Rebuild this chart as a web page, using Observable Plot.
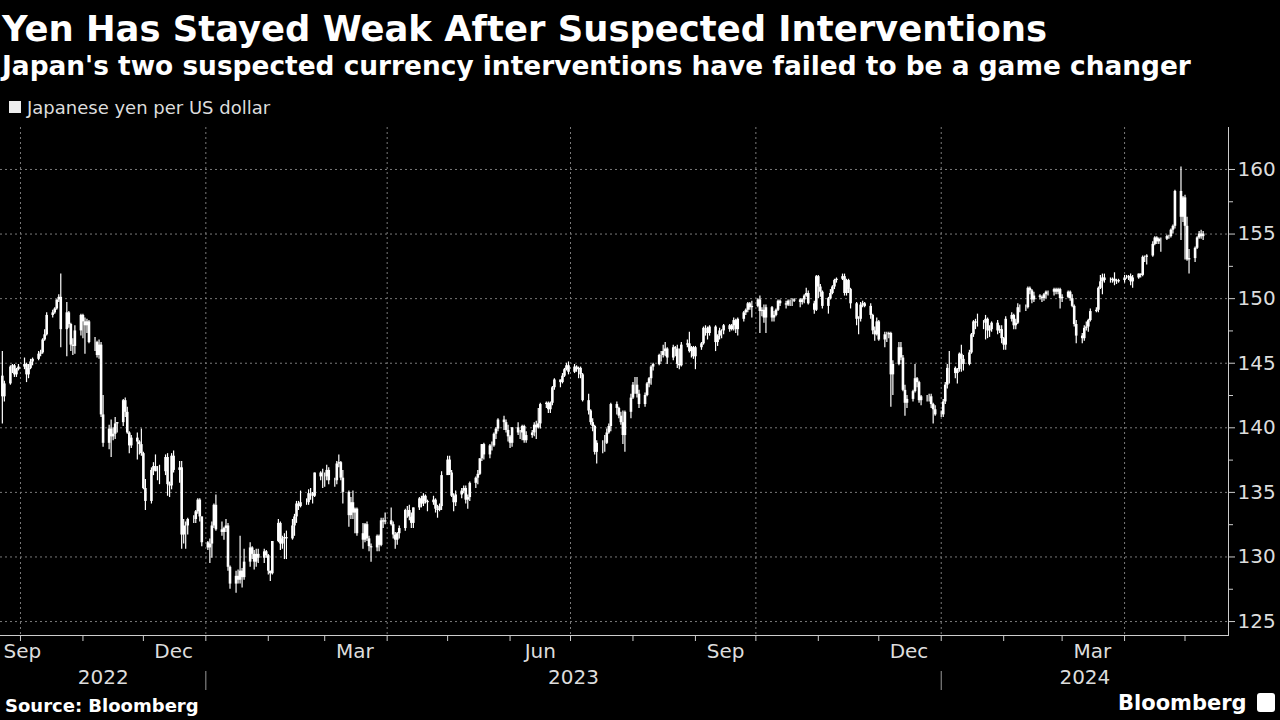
<!DOCTYPE html>
<html><head><meta charset="utf-8">
<script src="https://cdn.jsdelivr.net/npm/d3@7"></script>
<script src="https://cdn.jsdelivr.net/npm/@observablehq/plot@0.6"></script>
<style>
html,body{margin:0;padding:0;background:#000;}
#wrap{position:relative;width:1280px;height:720px;overflow:hidden;background:#000;font-family:"DejaVu Sans",sans-serif;color:#fff;}
.abs{position:absolute;white-space:nowrap;line-height:1;}
#title{left:2px;top:11px;font-size:35.4px;font-weight:bold;}
#subtitle{left:2px;top:53px;font-size:26.4px;font-weight:bold;}
#sw{left:9px;top:101px;width:12px;height:12px;background:#eee;}
#legend{left:27px;top:99px;font-size:18px;color:#ddd;}
#chart{position:absolute;left:0;top:120px;}
#source{left:5px;top:697px;font-size:18px;font-weight:bold;}
#logo{left:1118px;top:693px;font-size:21px;font-weight:bold;}
#icon{left:1257px;top:693px;width:18px;height:19px;background:#fff;border-radius:3px;}
</style></head>
<body><div id="wrap">
<div id="title" class="abs">Yen Has Stayed Weak After Suspected Interventions</div>
<div id="subtitle" class="abs">Japan's two suspected currency interventions have failed to be a game changer</div>
<div id="sw" class="abs"></div>
<div id="legend" class="abs">Japanese yen per US dollar</div>
<div id="chart"></div>
<div id="source" class="abs">Source: Bloomberg</div>
<div id="logo" class="abs">Bloomberg</div>
<div id="icon" class="abs"></div>
</div>
<script>
// Daily USD/JPY candles, weekdays starting Thu 2022-09-22, one row per week (Mon-Fri)
const open = [
[144.0,142.4],
[143.4,144.7,144.8,144.1,144.5],[144.7,144.9,144.1,144.6,145.1],[145.3,145.7,145.8,146.8,147.2],[148.7,148.9,149.2,149.9,150.1],
[147.6,148.9,148.0,146.4,146.3],[147.5,148.7,148.2,147.9,148.2],[146.6,146.6,145.6,146.4,141.0],[138.8,139.9,139.3,139.5,140.3],
[140.4,142.1,141.2,139.6,138.6],[139.2,138.9,138.7,138.0,135.3],[134.3,136.7,137.0,136.6,136.6],[136.6,137.7,135.6,135.5,137.8],
[136.7,136.9,131.7,132.4,132.4],[132.9,132.9,133.5,134.4,133.1],[131.1,130.7,131.0,132.4,134.0],[132.1,131.9,132.2,132.4,129.2],
[127.9,128.5,128.2,128.9,128.4],[129.6,130.7,130.2,129.6,130.2],[129.9,130.4,130.1,128.9,128.7],[131.2,132.6,131.0,131.4,131.5],
[131.4,132.4,133.1,134.1,133.9],[134.2,134.2,134.9,134.9,134.7],[136.5,136.2,136.2,136.2,136.7],[135.9,135.9,137.2,137.3,136.1],
[135.0,133.2,134.2,133.4,133.7],[131.8,131.3,132.5,131.4,130.8],[130.7,131.6,130.9,132.8,132.7],[132.8,132.5,131.7,131.3,131.8],
[132.2,133.6,133.6,133.1,132.6],[133.8,134.5,134.1,134.7,134.3],[134.2,134.4,133.7,133.6,133.9],[136.3,137.5,136.5,134.7,134.2],
[134.8,135.1,135.3,134.4,134.6],[135.7,136.1,136.4,137.6,138.7],[137.9,138.6,138.6,139.5,139.9],[140.6,140.4,139.8,139.3,138.8],
[140.0,139.6,139.6,140.1,139.0],[139.4,139.6,140.2,140.0,140.3],[141.8,141.9,141.4,141.9,143.1],[143.7,143.5,144.0,144.5,144.8],
[144.3,144.7,144.5,144.6,144.1],[142.1,141.3,140.4,140.1,138.1],[138.8,138.8,138.8,139.6,140.1],[141.8,141.5,140.9,140.4,139.4],
[141.2,142.3,143.3,143.3,142.6],[141.8,142.5,143.4,143.8,144.7],[144.9,145.6,145.6,145.9,146.1],[145.4,146.2,146.1,144.9,144.8],
[146.4,146.5,145.9,146.2,145.5],[146.2,146.5,147.7,147.7,147.3],[147.8,146.6,147.1,147.5,147.5],[147.9,147.6,147.9,148.3,147.6],
[148.4,148.9,149.1,149.6,149.3],[149.4,149.9,149.0,149.1,148.5],[149.3,148.5,148.7,149.1,149.8],[149.6,149.5,149.8,149.8,149.8],
[149.9,149.7,149.9,150.2,150.4],[149.6,149.1,151.7,150.9,150.5],[149.4,150.0,150.4,150.9,151.4],[151.5,151.7,150.4,151.4,150.7],
[149.6,148.4,148.4,149.5,149.6],[149.4,148.7,147.5,147.2,148.2],[146.8,147.2,147.2,147.3,144.1],[144.9,146.2,145.4,142.9,141.9],
[142.2,142.8,143.8,143.5,142.1],[142.4,142.4,142.4,141.8,141.4],[141.0,141.0,142.0,143.3,144.6],[144.6,144.2,144.5,145.7,145.3],
[144.9,145.8,147.2,148.2,148.1],[148.1,148.1,148.4,147.5,147.6],[148.1,147.5,147.6,146.9,146.4],[148.4,148.7,147.9,148.1,149.3],
[149.3,149.3,150.8,150.6,149.9],[150.2,150.1,150.0,150.3,150.5],[150.5,150.7,150.5,150.7,150.0],[150.1,150.5,150.0,149.4,148.0],
[147.1,146.9,147.7,147.8,148.3],[149.0,149.1,150.8,151.3,151.6],[151.4,151.4,151.5,151.3,151.3],[151.4,151.6,151.6,151.7,151.3],
[151.6,151.9,151.8,153.2,153.2],[153.3,154.2,154.7,154.4,154.6],[154.6,154.8,154.8,155.3,155.6],[158.3,156.3,157.8,155.6,153.0],
[153.1,153.9,154.7,155.0,154.8]
].flat();
const high = [
[145.9,143.6],
[144.8,144.9,144.9,144.6,144.9],[145.4,145.0,144.9,145.3,145.4],[145.9,146.0,146.9,147.6,148.9],[149.1,149.3,149.9,150.3,151.9],
[149.7,149.0,148.1,146.9,147.9],[148.8,148.8,148.5,148.4,148.3],[147.0,146.7,146.8,146.6,142.5],[140.2,140.6,140.0,140.8,140.4],
[142.2,142.3,141.6,139.7,139.4],[139.6,139.0,139.9,138.1,136.0],[136.9,137.3,137.9,137.0,137.1],[137.9,138.0,135.8,138.0,138.2],
[137.4,137.4,132.9,132.7,133.0],[133.2,133.6,134.5,134.5,133.1],[131.2,131.4,132.7,134.1,134.8],[132.7,132.3,132.9,132.6,129.3],
[128.9,129.0,131.6,129.1,130.6],[131.1,130.8,130.5,130.6,130.6],[130.6,130.5,130.2,128.9,131.2],[132.9,132.7,131.6,131.8,132.0],
[132.9,133.3,134.3,134.3,135.1],[134.5,135.2,135.3,135.0,136.5],[136.6,136.8,136.5,137.1,136.9],[136.1,137.4,137.9,137.4,136.7],
[135.1,134.6,135.1,133.8,133.8],[132.6,132.6,132.7,131.6,131.0],[131.7,131.7,133.0,133.0,133.4],[133.8,132.7,131.9,131.9,132.4],
[133.7,133.9,134.0,133.4,133.8],[134.6,134.7,134.9,134.8,134.4],[134.7,134.5,134.0,134.1,136.6],[137.8,137.8,136.7,134.9,135.1],
[135.3,135.5,135.5,134.8,135.8],[136.2,136.7,137.6,138.7,138.8],[138.7,138.9,139.6,140.0,140.7],[140.9,140.6,140.2,139.4,140.0],
[140.4,139.8,140.2,140.2,139.7],[139.8,140.4,140.5,141.5,141.9],[142.0,142.0,142.0,143.2,143.8],[143.7,144.2,144.6,145.0,145.1],
[144.9,144.8,144.7,144.7,144.2],[142.6,141.4,140.7,140.2,139.0],[139.0,139.4,139.9,140.3,141.9],[142.0,141.6,141.2,141.3,141.3],
[142.6,143.5,143.9,143.9,142.9],[142.7,143.5,143.9,144.8,145.0],[145.7,145.9,146.4,146.6,146.2],[146.4,146.3,146.4,146.1,146.6],
[146.8,147.4,146.3,146.3,146.3],[146.6,147.8,147.9,147.8,147.9],[147.9,147.2,147.7,147.6,148.0],[148.0,148.0,148.5,148.4,148.5],
[149.0,149.2,149.7,149.7,149.8],[150.0,150.2,149.3,149.5,149.5],[149.4,149.0,149.2,149.9,149.9],[149.8,149.9,149.9,150.0,150.0],
[150.0,150.0,150.3,150.8,150.6],[149.8,151.8,151.8,151.1,150.6],[150.1,150.7,151.0,151.5,151.6],[151.9,151.9,151.5,151.5,150.8],
[149.7,148.6,149.7,149.8,149.7],[149.6,148.8,147.8,148.5,148.3],[147.4,147.4,147.4,147.4,145.2],[146.6,146.6,145.6,143.3,142.5],
[142.9,144.9,143.9,143.6,142.5],[142.5,142.6,142.6,141.9,141.7],[141.3,142.2,143.5,144.9,145.9],[144.7,144.6,145.8,146.4,145.6],
[146.0,147.3,148.3,148.4,148.8],[148.3,148.7,148.5,147.9,148.2],[148.3,147.9,147.9,147.0,148.6],[148.9,148.8,148.4,149.6,149.5],
[149.5,150.9,150.9,150.7,150.5],[150.3,150.2,150.4,150.6,150.6],[150.8,150.8,150.8,150.8,150.3],[150.6,150.6,150.3,149.5,148.3],
[147.3,147.9,148.2,148.4,149.2],[149.3,150.9,151.8,151.9,151.9],[151.6,151.6,152.0,151.5,151.5],[151.8,151.8,151.8,151.9,151.8],
[151.9,151.9,153.3,153.3,153.4],[154.4,154.8,154.8,154.7,154.7],[154.9,154.9,155.4,155.7,158.4],[160.2,157.9,158.0,156.3,153.8],
[154.0,154.8,155.2,155.3,155.2]
].flat();
const low = [
[140.3,142.0],
[143.3,144.2,143.9,143.9,144.4],[144.5,143.5,143.8,144.5,144.8],[145.2,145.5,145.7,146.7,147.1],[148.5,148.8,149.1,149.7,146.2],
[145.5,147.7,145.9,145.6,145.7],[147.1,146.9,145.7,147.3,146.5],[145.9,145.4,145.3,140.8,138.5],[138.3,137.7,139.0,139.1,139.6],
[140.1,140.8,139.5,138.0,138.4],[137.5,137.9,137.8,135.2,133.6],[134.1,136.3,136.6,135.9,135.6],[136.3,134.7,134.6,135.2,136.5],
[135.7,130.6,131.0,130.6,131.7],[132.6,132.6,133.3,132.7,130.8],[130.5,129.5,129.9,132.2,132.0],[131.6,131.3,131.9,128.9,127.5],
[127.2,127.9,127.9,127.6,128.2],[129.2,129.8,129.0,129.2,129.5],[129.5,129.9,128.6,128.1,128.6],[131.1,130.5,130.6,129.8,129.8],
[131.3,131.6,132.6,133.6,133.8],[134.0,134.0,134.4,134.1,134.6],[135.9,135.3,135.4,135.9,135.6],[135.4,135.6,136.9,135.9,134.1],
[132.3,132.9,132.9,131.8,131.6],[130.6,131.1,131.2,130.4,129.6],[130.4,130.4,130.8,132.2,132.5],[132.4,131.4,130.6,130.9,131.4],
[132.0,133.0,132.8,132.2,132.2],[133.6,133.8,133.9,134.1,133.5],[134.0,133.4,133.0,133.5,133.6],[136.3,136.3,134.6,133.5,133.9],
[134.5,134.9,134.1,133.7,134.3],[135.3,135.6,136.3,137.4,137.5],[137.6,138.2,138.5,139.1,139.7],[139.8,139.6,138.9,138.4,138.5],
[139.4,139.1,139.0,138.8,138.8],[139.2,139.3,139.1,139.9,139.9],[141.5,141.1,141.1,141.7,142.9],[143.1,143.4,143.9,144.4,144.1],
[144.2,144.3,143.8,143.8,142.0],[141.0,140.2,139.7,137.9,137.2],[138.0,138.1,138.7,139.5,139.7],[141.0,140.7,140.2,138.7,138.1],
[140.7,142.2,142.6,142.3,141.5],[141.6,142.4,143.1,143.3,144.4],[144.8,145.1,145.4,145.5,144.9],[145.2,145.5,144.6,144.5,144.7],
[146.2,145.8,145.4,145.3,144.5],[146.0,146.4,147.1,146.8,147.1],[145.9,146.3,146.8,146.9,147.2],[147.4,147.5,147.5,147.3,147.1],
[148.2,148.7,148.9,149.1,148.5],[149.3,147.3,148.6,148.1,147.3],[148.2,148.2,148.6,149.0,149.4],[149.2,149.4,149.4,149.4,149.7],
[149.3,149.5,149.6,150.1,149.5],[148.8,149.0,150.0,150.1,149.2],[148.8,149.9,150.3,150.7,151.2],[151.4,150.2,150.2,150.4,149.2],
[147.9,147.2,148.2,149.3,149.3],[148.4,147.2,146.7,147.1,146.7],[146.2,146.6,146.9,141.6,142.5],[144.8,145.2,142.8,140.9,141.5],
[142.0,142.7,143.1,141.9,141.7],[142.0,142.0,141.5,140.3,140.9],[140.8,140.8,141.8,143.0,143.4],[143.8,143.4,144.3,144.3,144.4],
[144.8,145.7,147.0,147.6,147.8],[147.6,146.8,146.9,147.0,147.4],[147.2,147.3,146.5,146.0,146.0],[148.2,147.6,147.6,148.0,148.9],
[149.0,149.2,150.3,149.6,149.7],[149.9,149.7,149.8,150.0,150.2],[150.2,150.3,150.3,149.2,149.7],[150.0,149.8,149.3,147.8,146.5],
[146.5,146.7,147.5,147.4,148.2],[148.9,148.9,150.7,150.3,151.2],[151.2,151.2,151.0,151.1,151.2],[151.2,151.5,151.4,151.0,150.8],
[151.5,151.6,151.7,152.8,152.6],[153.2,154.1,154.2,154.2,153.6],[154.5,154.6,154.7,155.0,155.4],[154.5,155.9,153.0,152.9,151.9],
[152.8,153.8,154.6,154.6,154.5]
].flat();
const close = [
[142.4,143.4],
[144.7,144.8,144.1,144.5,144.7],[144.9,144.1,144.6,145.1,145.3],[145.7,145.8,146.8,147.2,148.7],[148.9,149.2,149.9,150.1,147.6],
[148.9,148.0,146.4,146.3,147.5],[148.7,148.2,147.9,148.2,146.6],[146.6,145.6,146.4,141.0,138.8],[139.9,139.3,139.5,140.3,140.4],
[142.1,141.2,139.6,138.6,139.2],[138.9,138.7,138.0,135.3,134.3],[136.7,137.0,136.6,136.6,136.6],[137.7,135.6,135.5,137.8,136.7],
[136.9,131.7,132.4,132.4,132.9],[132.9,133.5,134.4,133.1,131.1],[130.7,131.0,132.4,134.0,132.1],[131.9,132.2,132.4,129.2,127.9],
[128.5,128.2,128.9,128.4,129.6],[130.7,130.2,129.6,130.2,129.9],[130.4,130.1,128.9,128.7,131.2],[132.6,131.0,131.4,131.5,131.4],
[132.4,133.1,134.1,133.9,134.2],[134.2,134.9,134.9,134.7,136.5],[136.2,136.2,136.2,136.7,135.9],[135.9,137.2,137.3,136.1,135.0],
[133.2,134.2,133.4,133.7,131.8],[131.3,132.5,131.4,130.8,130.7],[131.6,130.9,132.8,132.7,132.8],[132.5,131.7,131.3,131.8,132.2],
[133.6,133.6,133.1,132.6,133.8],[134.5,134.1,134.7,134.3,134.2],[134.4,133.7,133.6,133.9,136.3],[137.5,136.5,134.7,134.2,134.8],
[135.1,135.3,134.4,134.6,135.7],[136.1,136.4,137.6,138.7,137.9],[138.6,138.6,139.5,139.9,140.6],[140.4,139.8,139.3,138.8,140.0],
[139.6,139.6,140.1,139.0,139.4],[139.6,140.2,140.0,140.3,141.8],[141.9,141.4,141.9,143.1,143.7],[143.5,144.0,144.5,144.8,144.3],
[144.7,144.5,144.6,144.1,142.1],[141.3,140.4,140.1,138.1,138.8],[138.8,138.8,139.6,140.1,141.8],[141.5,140.9,140.4,139.4,141.2],
[142.3,143.3,143.3,142.6,141.8],[142.5,143.4,143.8,144.7,144.9],[145.6,145.6,145.9,146.1,145.4],[146.2,146.1,144.9,144.8,146.4],
[146.5,145.9,146.2,145.5,146.2],[146.5,147.7,147.7,147.3,147.8],[146.6,147.1,147.5,147.5,147.9],[147.6,147.9,148.3,147.6,148.4],
[148.9,149.1,149.6,149.3,149.4],[149.9,149.0,149.1,148.5,149.3],[148.5,148.7,149.1,149.8,149.6],[149.5,149.8,149.8,149.8,149.9],
[149.7,149.9,150.2,150.4,149.6],[149.1,151.7,150.9,150.5,149.4],[150.0,150.4,150.9,151.4,151.5],[151.7,150.4,151.4,150.7,149.6],
[148.4,148.4,149.5,149.6,149.4],[148.7,147.5,147.2,148.2,146.8],[147.2,147.2,147.3,144.1,144.9],[146.2,145.4,142.9,141.9,142.2],
[142.8,143.8,143.5,142.1,142.4],[142.4,142.4,141.8,141.4,141.0],[141.0,142.0,143.3,144.6,144.6],[144.2,144.5,145.7,145.3,144.9],
[145.8,147.2,148.2,148.1,148.1],[148.1,148.4,147.5,147.6,148.1],[147.5,147.6,146.9,146.4,148.4],[148.7,147.9,148.1,149.3,149.3],
[149.3,150.8,150.6,149.9,150.2],[150.1,150.0,150.3,150.5,150.5],[150.7,150.5,150.7,150.0,150.1],[150.5,150.0,149.4,148.0,147.1],
[146.9,147.7,147.8,148.3,149.0],[149.1,150.8,151.3,151.6,151.4],[151.4,151.5,151.3,151.3,151.4],[151.6,151.6,151.7,151.3,151.6],
[151.9,151.8,153.2,153.2,153.3],[154.2,154.7,154.4,154.6,154.6],[154.8,154.8,155.3,155.6,158.3],[156.3,157.8,155.6,153.0,153.1],
[153.9,154.7,155.0,154.8,155.0]
].flat();

const yTicks = [125,130,135,140,145,150,155,160];
const yMinor = [127.5,132.5,137.5,142.5,147.5,152.5,157.5];
const monthLabels = [
  {date:"2022-12-16", label:"Dec"},{date:"2023-03-16", label:"Mar"},{date:"2023-06-16", label:"Jun"},
  {date:"2023-09-16", label:"Sep"},{date:"2023-12-16", label:"Dec"},{date:"2024-03-16", label:"Mar"}
].map(d => ({...d, date: new Date(d.date)}));
const firstMonthLabel = "Sep";
const years = ["2022","2023","2024"];

const xStart = new Date("2022-09-21T02:00:00Z");
const xEnd = new Date("2024-05-22T14:00:00Z");

// weekday dates
const dates = [];
for (let t = Date.UTC(2022,8,22); dates.length < close.length; t += 864e5) {
  const wd = new Date(t).getUTCDay();
  if (wd > 0 && wd < 6) dates.push(new Date(t));
}
const candles = dates.map((date,i) => ({date, open:open[i], high:high[i], low:low[i], close:close[i]}));

const monthStarts = d3.utcMonth.range(xStart, xEnd);
const quarterStarts = monthStarts.filter(d => d.getUTCMonth() % 3 === 0);
const yearStarts = monthStarts.filter(d => d.getUTCMonth() === 0);
const bounds = [xStart, ...yearStarts, xEnd];
const yearLabels = years.map((label,i) => ({label, date: new Date((+bounds[i] + +bounds[i+1]) / 2)}));

const grid = {stroke:"#7a7a7a", strokeDasharray:"2,3", strokeWidth:1};
const chart = Plot.plot({
  width:1280, height:575,
  marginLeft:0, marginRight:52, marginTop:7, marginBottom:60,
  style:{background:"#000", color:"#ddd", fontFamily:"DejaVu Sans", fontSize:"20px", overflow:"visible"},
  x:{type:"utc", domain:[xStart, xEnd], axis:null},
  y:{domain:[123.92, 163.25], axis:null},
  marks:[
    Plot.ruleY(yTicks, grid),
    Plot.ruleX(quarterStarts, grid),
    Plot.ruleX(candles, {x:"date", y1:"low", y2:"high", stroke:"#fff", strokeWidth:1.2}),
    Plot.ruleX(candles, {x:"date", y1:"open", y2:"close", stroke:"#fff", strokeWidth:2.6}),
    Plot.frame({anchor:"right", stroke:"#ccc"}),
    Plot.frame({anchor:"bottom", stroke:"#ccc"}),
    Plot.axisY({anchor:"right", ticks:yTicks, tickSize:6, tickPadding:3, fontSize:20, fill:"#ddd", stroke:"#ccc", label:null}),
    Plot.axisY({anchor:"right", ticks:yMinor, tickSize:4, tickFormat:() => "", stroke:"#ccc", label:null}),
    Plot.axisX({ticks:monthStarts, tickSize:6, tickFormat:() => "", stroke:"#ccc", label:null}),
    Plot.axisX({ticks:yearStarts, tickSize:19, tickFormat:() => "", stroke:"#999", dy:36, label:null}),
    Plot.text(monthLabels, {x:"date", text:"label", frameAnchor:"bottom", dy:22, fill:"#ddd", fontSize:20}),
    Plot.text([firstMonthLabel], {x:() => xStart, text:d => d, frameAnchor:"bottom", dy:22, dx:3, textAnchor:"start", fill:"#ddd", fontSize:20}),
    Plot.text(yearLabels, {x:"date", text:"label", frameAnchor:"bottom", dy:48, fill:"#ddd", fontSize:20})
  ]
});
document.getElementById("chart").appendChild(chart);
</script>
</body></html>
